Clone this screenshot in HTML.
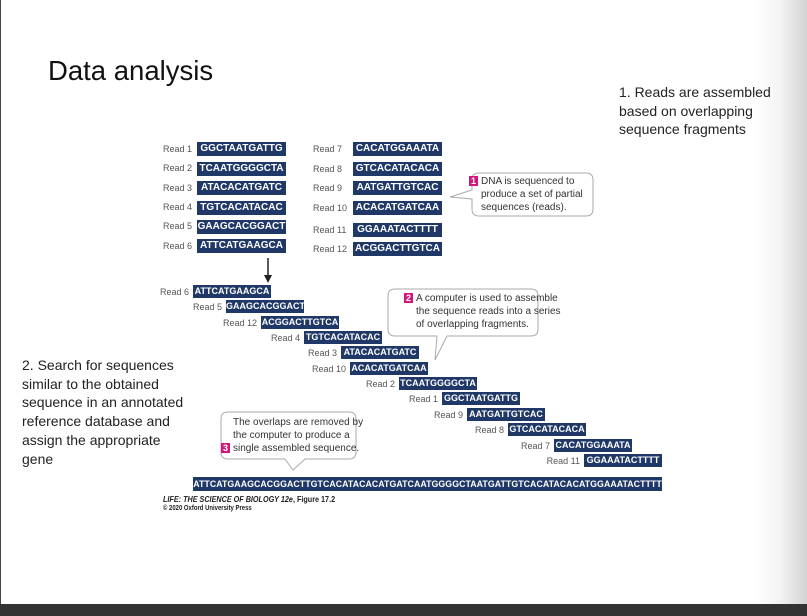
<!DOCTYPE html>
<html><head><meta charset="utf-8"><style>
body{margin:0;width:807px;height:616px;overflow:hidden;background:#fff;position:relative;font-family:"Liberation Sans",Arial,sans-serif}
.a{position:absolute;white-space:nowrap}
.l{position:absolute;font-size:9px;color:#555;line-height:13px;white-space:nowrap;text-align:right}
.b{position:absolute;background:#1f3868;color:#fff;font-weight:bold;font-size:10px;line-height:14px;height:14px;width:89px;text-align:center;overflow:hidden;white-space:nowrap}
.s{font-size:9px;width:78px;height:13px;line-height:13px}
.t{font-size:14px;color:#222;line-height:18.7px}
.c{position:absolute;font-size:10px;color:#333;line-height:13px;white-space:nowrap}
.n{display:inline-block;background:#d0187a;color:#fff;font-weight:bold;font-size:9px;line-height:10px;width:9px;text-align:center;margin-right:3px}
</style></head><body>
<div style="position:absolute;left:0;top:0;width:1px;height:604px;background:#444"></div>
<div style="position:absolute;left:755px;top:0;width:52px;height:604px;background:linear-gradient(to right,#fff,#f3f3f3 50%,#d2d2d2)"></div>
<div style="position:absolute;left:0;top:604px;width:807px;height:12px;background:#333"></div>

<div class="a" style="left:48px;top:55px;font-size:27.5px;color:#111">Data analysis</div>
<div class="a t" style="left:619px;top:83px">1. Reads are assembled<br>based on overlapping<br>sequence fragments</div>
<div class="a t" style="left:22px;top:356px">2. Search for sequences<br>similar to the obtained<br>sequence in an annotated<br>reference database and<br>assign the appropriate<br>gene</div>

<div class="l" style="left:163px;top:143px">Read 1</div><div class="b" style="left:197px;top:142px">GGCTAATGATTG</div>
<div class="l" style="left:163px;top:162px">Read 2</div><div class="b" style="left:197px;top:162px">TCAATGGGGCTA</div>
<div class="l" style="left:163px;top:182px">Read 3</div><div class="b" style="left:197px;top:181px">ATACACATGATC</div>
<div class="l" style="left:163px;top:201px">Read 4</div><div class="b" style="left:197px;top:201px">TGTCACATACAC</div>
<div class="l" style="left:163px;top:220px">Read 5</div><div class="b" style="left:197px;top:220px">GAAGCACGGACT</div>
<div class="l" style="left:163px;top:240px">Read 6</div><div class="b" style="left:197px;top:239px">ATTCATGAAGCA</div>
<div class="l" style="left:313px;top:143px">Read 7</div><div class="b" style="left:353px;top:142px">CACATGGAAATA</div>
<div class="l" style="left:313px;top:163px">Read 8</div><div class="b" style="left:353px;top:162px">GTCACATACACA</div>
<div class="l" style="left:313px;top:182px">Read 9</div><div class="b" style="left:353px;top:181px">AATGATTGTCAC</div>
<div class="l" style="left:313px;top:202px">Read 10</div><div class="b" style="left:353px;top:201px">ACACATGATCAA</div>
<div class="l" style="left:313px;top:224px">Read 11</div><div class="b" style="left:353px;top:223px">GGAAATACTTTT</div>
<div class="l" style="left:313px;top:243px">Read 12</div><div class="b" style="left:353px;top:242px">ACGGACTTGTCA</div>

<svg class="a" style="left:0;top:0" width="807" height="616">
<line x1="268" y1="258" x2="268" y2="276" stroke="#222" stroke-width="1.5"/>
<polygon points="264,275 272,275 268,283" fill="#222"/>
<path d="M479,173 H586 Q593,173 593,180 V209 Q593,216 586,216 H479 Q472,216 472,209 V199 L450,197 L472,190 V180 Q472,173 479,173 Z" fill="#fff" stroke="#aaa"/>
<path d="M395,289 H531 Q538,289 538,296 V329 Q538,336 531,336 H447 L435,360 L437,336 H395 Q388,336 388,329 V296 Q388,289 395,289 Z" fill="#fff" stroke="#aaa"/>
<path d="M228,412 H349 Q356,412 356,419 V452 Q356,459 349,459 H305 L293,470 L285,459 H228 Q221,459 221,452 V419 Q221,412 228,412 Z" fill="#fff" stroke="#aaa"/>
</svg>
<div class="c" style="left:469px;top:175px"><span class="n">1</span>DNA is sequenced to<br><span style="padding-left:12px">produce a set of partial</span><br><span style="padding-left:12px">sequences (reads).</span></div>
<div class="c" style="left:404px;top:292px"><span class="n">2</span>A computer is used to assemble<br><span style="padding-left:12px">the sequence reads into a series</span><br><span style="padding-left:12px">of overlapping fragments.</span></div>
<div class="c" style="left:221px;top:416px"><span style="padding-left:12px">The overlaps are removed by</span><br><span style="padding-left:12px">the computer to produce a</span><br><span class="n">3</span>single assembled sequence.</div>

<div class="l" style="right:618px;top:286px">Read 6</div><div class="b s" style="left:193px;top:285px">ATTCATGAAGCA</div>
<div class="l" style="right:585px;top:301px">Read 5</div><div class="b s" style="left:226px;top:300px">GAAGCACGGACT</div>
<div class="l" style="right:550px;top:317px">Read 12</div><div class="b s" style="left:261px;top:316px">ACGGACTTGTCA</div>
<div class="l" style="right:507px;top:332px">Read 4</div><div class="b s" style="left:304px;top:331px">TGTCACATACAC</div>
<div class="l" style="right:470px;top:347px">Read 3</div><div class="b s" style="left:341px;top:346px">ATACACATGATC</div>
<div class="l" style="right:461px;top:363px">Read 10</div><div class="b s" style="left:350px;top:362px">ACACATGATCAA</div>
<div class="l" style="right:412px;top:378px">Read 2</div><div class="b s" style="left:399px;top:377px">TCAATGGGGCTA</div>
<div class="l" style="right:369px;top:393px">Read 1</div><div class="b s" style="left:442px;top:392px">GGCTAATGATTG</div>
<div class="l" style="right:344px;top:409px">Read 9</div><div class="b s" style="left:467px;top:408px">AATGATTGTCAC</div>
<div class="l" style="right:303px;top:424px">Read 8</div><div class="b s" style="left:508px;top:423px">GTCACATACACA</div>
<div class="l" style="right:257px;top:440px">Read 7</div><div class="b s" style="left:554px;top:439px">CACATGGAAATA</div>
<div class="l" style="right:227px;top:455px">Read 11</div><div class="b s" style="left:584px;top:454px">GGAAATACTTTT</div>
<div class="b s" style="left:193px;top:477px;width:469px;height:14px;line-height:14px;font-size:8.8px;letter-spacing:0.05px">ATTCATGAAGCACGGACTTGTCACATACACATGATCAATGGGGCTAATGATTGTCACATACACATGGAAATACTTTT</div>

<div class="a" style="left:163px;top:494px;font-size:8.5px;color:#222;font-weight:bold;transform:scaleX(0.85);transform-origin:left"><i>LIFE: THE SCIENCE OF BIOLOGY 12e</i>, Figure 17.2</div>
<div class="a" style="left:163px;top:505px;font-size:7px;color:#222;font-weight:bold;transform:scaleX(0.85);transform-origin:left">© 2020 Oxford University Press</div>
</body></html>
